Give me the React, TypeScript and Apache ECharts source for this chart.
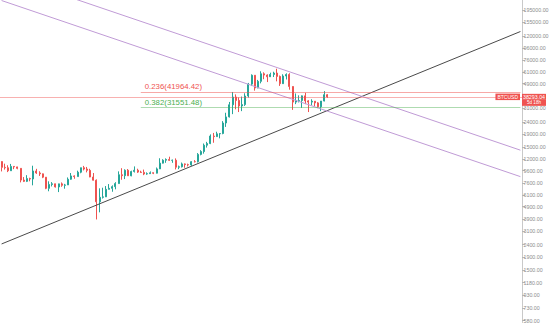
import React, { useEffect, useRef } from "react";
import * as echarts from "echarts";

// ---- data ----
const FIRST_WEEK_UTC = Date.UTC(2019, 7, 12); // 2019-08-12, weekly candles
const WEEK_COUNT = 165; // visible weeks incl. empty future space

const opens = [
  11390, 10220, 10140, 9590, 10400, 10310, 10030, 8050, 7860, 8280,
  8220, 9550, 9200, 9050, 8500, 6900, 7420, 7510, 7080, 7500,
  7300, 7350, 8180, 8700, 8600, 9330, 10150, 9900, 9660, 8530,
  8030, 5360, 5830, 5880, 6770, 6900, 7120, 7540, 8900, 8750,
  9680, 8720, 9450, 9680, 9350, 9300, 9020, 9080, 9230, 9160,
  9930, 11060, 11680, 11850, 11650, 11680, 10250, 10330, 10900, 10750,
  10690, 11370, 11360, 13030, 13750, 15480, 15970, 18380, 18180, 19150,
  19270, 23460, 26290, 33000, 38150, 35800, 32270, 33100, 38900, 48600,
  57400, 45200, 51200, 59000, 57600, 55800, 58200, 59800, 56150, 49000,
  56600, 58200, 46500, 34700, 35600, 35800, 39000, 35500, 34700, 35300,
  34200, 31800, 35400, 39850,
];
const closes = [
  10220, 10140, 9590, 10400, 10310, 10030, 8050, 7860, 8280, 8220,
  9550, 9200, 9050, 8500, 6900, 7420, 7510, 7080, 7500, 7300,
  7350, 8180, 8700, 8600, 9330, 10150, 9900, 9660, 8530, 8030,
  5360, 5830, 5880, 6770, 6900, 7120, 7540, 8900, 8750, 9680,
  8720, 9450, 9680, 9350, 9300, 9020, 9080, 9230, 9160, 9930,
  11060, 11680, 11850, 11650, 11680, 10250, 10330, 10900, 10750, 10690,
  11370, 11360, 13030, 13750, 15480, 15970, 18380, 18180, 19150, 19270,
  23460, 26290, 33000, 38150, 35800, 32270, 33100, 38900, 48600, 57400,
  45200, 51200, 59000, 57600, 55800, 58200, 59800, 56150, 49000, 56600,
  58200, 46500, 34700, 35600, 35800, 39000, 35500, 34700, 35300, 34200,
  31800, 35400, 39850, 38293.04,
];
const lows = [
  9470, 9800, 9350, 9580, 9880, 9860, 7710, 7760, 7760, 7870,
  7300, 9040, 8700, 8350, 6790, 6530, 7150, 7000, 6430, 7100,
  6850, 7350, 8100, 8250, 8600, 9150, 9650, 9300, 8500, 7980,
  3850, 4400, 5700, 5860, 6770, 6470, 6770, 7530, 8100, 8200,
  8720, 8650, 9280, 9200, 9220, 8830, 8900, 9060, 9000, 9120,
  9900, 11000, 11130, 11520, 11130, 9830, 9880, 10200, 10140, 10400,
  10520, 11200, 11200, 12800, 13220, 14800, 15790, 16200, 18100, 17600,
  19000, 21800, 26000, 27700, 30300, 28800, 29300, 32300, 37800, 46900,
  43000, 45000, 49300, 53300, 50500, 55500, 55500, 51200, 47000, 48800,
  53000, 43800, 30000, 33400, 34500, 31100, 33400, 28800, 32700, 32100,
  31000, 29300, 35200, 37600,
];
const highs = [
  11450, 10950, 10630, 10900, 10450, 10340, 10050, 8520, 8830, 8420,
  10540, 9940, 9500, 9100, 8500, 7870, 7750, 7530, 7520, 7700,
  7500, 8460, 9190, 8800, 9600, 10150, 10500, 10300, 9950, 9190,
  8150, 6900, 6980, 7200, 7470, 7290, 7740, 9480, 10060, 9850,
  9900, 9600, 10400, 9960, 9590, 9800, 9300, 9470, 9290, 10190,
  12120, 11900, 12090, 12480, 11820, 12090, 10560, 11180, 11000, 10950,
  11480, 11700, 13350, 14100, 15970, 16480, 18950, 19480, 19920, 19400,
  24300, 28420, 34800, 41950, 40100, 37850, 38500, 40950, 49700, 58350,
  57500, 52600, 61800, 60600, 58400, 60200, 61300, 64850, 57100, 58450,
  59500, 59600, 46600, 40800, 39400, 39300, 41300, 36000, 36600, 35300,
  34700, 35400, 42600, 40300,
];

const priceTicks = [
  580, 730, 930, 1180, 1500, 1900, 2400, 3100, 3900, 4900, 6100, 7600, 9600,
  12000, 15000, 19000, 24000, 31000, 49000, 61000, 76000, 96000, 120000,
  155000, 195000,
];
const lastPrice = 38293.04;
const symbolName = "BTCUSD";
const barCountdown = "5d 18h";

const fibLevels = ["0.236", "0.382"];
const fibValues = [41964.42, 31551.48];
const fibColors = ["#ef5350", "#4caf50"];
const fibLineColors = ["rgba(239,83,80,0.5)", "rgba(76,175,80,0.45)"];
const fibStart = "2020-06-15";
const chartEnd = "2022-10-03";

const supportLine: [string, number][] = [["2019-08-12", 2433], [chartEnd, 130200]];
const channelUpper: [string, number][] = [["2020-01-13", 245400], [chartEnd, 14100]];
const channelLower: [string, number][] = [["2019-08-12", 232700], [chartEnd, 8590]];

// ---- build ----
const weeks: string[] = [];
for (let i = 0; i < WEEK_COUNT; i++) {
  weeks.push(new Date(FIRST_WEEK_UTC + i * 7 * 86400000).toISOString().slice(0, 10));
}
const candles = opens.map((o, i) => [o, closes[i], lows[i], highs[i]]);

const FONT = "Liberation Sans";
const UP = "#26a69a";
const DOWN = "#ef5350";

export default function App() {
  const ref = useRef<HTMLDivElement>(null);
  useEffect(() => {
    document.body.style.margin = "0";
    const chart = echarts.init(ref.current!, undefined, { renderer: "svg" });
    const fibMarks = fibValues.map((v, k) => [
      {
        coord: [fibStart, v],
        lineStyle: { color: fibLineColors[k], width: 1, type: "solid" },
        label: {
          show: true,
          position: "insideStartTop",
          distance: [4, 1],
          formatter: `${fibLevels[k]}(${v.toFixed(2)})`,
          color: fibColors[k],
          fontSize: 7.8,
          fontFamily: FONT,
        },
      },
      { coord: [chartEnd, v] },
    ]);
    chart.setOption({
      animation: false,
      backgroundColor: "#ffffff",
      grid: { left: 0, right: 32, top: 0, bottom: 0, containLabel: false },
      xAxis: {
        type: "category",
        data: weeks,
        boundaryGap: true,
        show: false,
      },
      yAxis: {
        type: "log",
        logBase: 10,
        position: "right",
        min: 558.8,
        max: 235000,
        axisLine: { show: true, lineStyle: { color: "#c9c9c9", width: 1 } },
        axisTick: {
          show: true,
          inside: false,
          length: 3,
          customValues: priceTicks,
          lineStyle: { color: "#b5b5b5" },
        },
        axisLabel: {
          customValues: priceTicks,
          formatter: (v: number) => v.toFixed(2),
          fontSize: 5.3,
          color: "#8c8c8c",
          margin: 1.5,
          fontFamily: FONT,
        },
        splitLine: { show: false },
      },
      series: [
        {
          type: "candlestick",
          data: candles,
          barWidth: 1.5,
          itemStyle: {
            color: UP,
            color0: DOWN,
            borderColor: UP,
            borderColor0: DOWN,
            borderWidth: 1,
          },
          markLine: {
            silent: true,
            symbol: "none",
            animation: false,
            data: [
              ...fibMarks,
              {
                yAxis: lastPrice,
                lineStyle: { color: "rgba(239,83,80,0.45)", width: 1, type: "solid" },
                label: {
                  show: true,
                  position: "end",
                  distance: 0,
                  formatter: `{e| }\n{a|${lastPrice.toFixed(2)}}\n{b|${barCountdown}}`,
                  rich: {
                    e: { lineHeight: 6, height: 6, width: 24, fontSize: 5 },
                    a: {
                      backgroundColor: DOWN,
                      color: "#fff",
                      width: 24,
                      height: 6,
                      lineHeight: 6,
                      align: "center",
                      fontSize: 5.3,
                      fontFamily: FONT,
                    },
                    b: {
                      backgroundColor: DOWN,
                      color: "#fff",
                      width: 24,
                      height: 6,
                      lineHeight: 6,
                      align: "center",
                      fontSize: 4.6,
                      fontFamily: FONT,
                    },
                  },
                },
              },
              {
                yAxis: lastPrice,
                lineStyle: { color: "rgba(0,0,0,0)", width: 0 },
                label: {
                  show: true,
                  position: "insideEnd",
                  distance: [2, 0],
                  formatter: symbolName,
                  backgroundColor: DOWN,
                  color: "#ffffff",
                  padding: [1, 2, 0.5, 2],
                  fontSize: 5,
                  fontFamily: FONT,
                },
              },
            ],
          },
        },
        {
          type: "line",
          data: supportLine,
          symbol: "none",
          silent: true,
          clip: true,
          z: 3,
          lineStyle: { color: "#4a4a4a", width: 1 },
        },
        {
          type: "line",
          data: channelUpper,
          symbol: "none",
          silent: true,
          clip: true,
          z: 3,
          lineStyle: { color: "#c09bd6", width: 1 },
        },
        {
          type: "line",
          data: channelLower,
          symbol: "none",
          silent: true,
          clip: true,
          z: 3,
          lineStyle: { color: "#c09bd6", width: 1 },
        },
      ],
    });
    return () => chart.dispose();
  }, []);
  return (
    <div
      ref={ref}
      style={{ position: "absolute", left: 0, top: 0, width: 554, height: 323 }}
    />
  );
}
